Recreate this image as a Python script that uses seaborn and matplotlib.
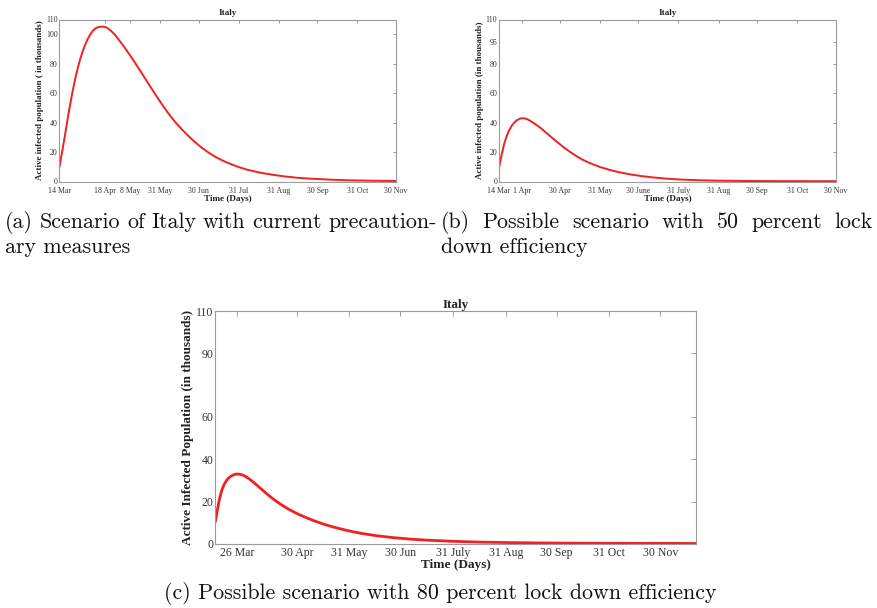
import matplotlib
matplotlib.use("Agg")
import matplotlib.pyplot as plt
import seaborn as sns
import pandas as pd

# ---- data: active infected population (thousands) vs days since 14 Mar ----
days_a = [0, 2, 4, 6, 8, 10, 12, 14, 16, 18, 20, 22, 24, 26, 28, 30, 32, 34, 36, 38,
          40, 43, 46, 50, 54, 58, 62, 66, 70, 74, 78, 82, 86, 90, 95, 100, 105, 110,
          116, 122, 130, 138, 146, 155, 165, 175, 185, 195, 210, 225, 240, 261]
infected_a = [10, 20, 30, 41, 51, 60.5, 69, 76.5, 83, 88.5, 93, 97, 100, 102.4, 104,
              104.8, 105.1, 105.1, 104.7, 103.7, 102.3, 99.6, 96.2, 91.6, 86.6, 81.4,
              76, 70.5, 65, 59.6, 54.3, 49.2, 44.5, 40.1, 35.3, 30.9, 26.8, 23.2, 19.4,
              16.2, 12.8, 10.1, 7.9, 6.1, 4.6, 3.4, 2.5, 1.9, 1.25, 0.8, 0.55, 0.35]

days_b = [0, 2, 4, 6, 8, 10, 12, 14, 16, 18, 20, 22, 25, 28, 32, 36, 40, 45, 50, 55,
          60, 65, 70, 78, 86, 94, 102, 110, 120, 130, 140, 155, 170, 190, 220, 261]
infected_b = [9.5, 18, 25.5, 31, 35, 38, 40.2, 41.7, 42.6, 43, 42.8, 42.2, 40.8, 39,
              36.5, 33.5, 30.5, 26.8, 23.3, 20.1, 17.2, 14.7, 12.6, 9.9, 7.8, 6.1, 4.8,
              3.7, 2.7, 1.9, 1.35, 0.85, 0.55, 0.35, 0.25, 0.2]

days_c = [-1, 0, 1, 2, 3, 4, 5, 6, 7, 9, 11, 13, 15, 17, 19, 22, 25, 29, 33, 37, 42,
          47, 52, 57, 63, 69, 77, 85, 94, 104, 114, 124, 138, 154, 169, 189, 219, 249, 282]
infected_c = [10.5, 15, 19.5, 23, 25.8, 27.8, 29.2, 30.4, 31.3, 32.4, 33, 33, 32.6,
              31.8, 30.7, 28.8, 26.7, 23.9, 21.3, 19, 16.5, 14.4, 12.6, 11, 9.3, 7.9,
              6.3, 5.0, 3.9, 3.0, 2.3, 1.8, 1.3, 0.9, 0.7, 0.5, 0.35, 0.3, 0.25]

ticks_a = [0, 35, 55, 78, 108, 139, 170, 200, 231, 261]
labels_a = ["14 Mar", "18 Apr", "8 May", "31 May", "30 Jun", "31 Jul", "31 Aug",
            "30 Sep", "31 Oct", "30 Nov"]
ticks_b = [0, 18, 47, 78, 108, 139, 170, 200, 231, 261]
labels_b = ["14 Mar", "1 Apr", "30 Apr", "31 May", "30 June", "31 July", "31 Aug",
            "30 Sep", "31 Oct", "30 Nov"]
ticks_c = [12, 47, 78, 108, 139, 170, 200, 231, 261]
labels_c = ["26 Mar", "30 Apr", "31 May", "30 Jun", "31 July", "31 Aug", "30 Sep",
            "31 Oct", "30 Nov"]

yticks_a = [0, 20, 40, 60, 80, 100, 110]
yticks_b = [0, 20, 40, 60, 80, 95, 110]
yticks_c = [0, 20, 40, 60, 90, 110]

ylabel_a = "Active infected population ( in thousands)"
ylabel_b = "Active infected population (in thousands)"
ylabel_c = "Active Infected Population (in thousands)"

caption_a = ["(a) Scenario of Italy with current precaution-", "ary measures"]
caption_b = ["(b) Possible scenario with 50 percent lock", "down efficiency"]
caption_c = "(c) Possible scenario with 80 percent lock down efficiency"

# ---- style ----
sns.set_style("white")
plt.rcParams["font.family"] = ["Liberation Serif", "DejaVu Serif"]

W, H = 878, 608
fig = plt.figure(figsize=(W / 100, H / 100), dpi=100)

RED = "#f22020"
FRAME = "#9a9a9a"


def px_axes(left, top, right, bottom):
    return fig.add_axes([left / W, 1 - bottom / H, (right - left) / W, (bottom - top) / H])


def panel(ax, days, vals, xlim, xticks, xlabels, yticks, ylabel,
          fs_tick, fs_lab, fs_ylab, lw, tlen, xpad, title_pad):
    df = pd.DataFrame({"day": days, "infected": vals})
    sns.lineplot(data=df, x="day", y="infected", ax=ax, color=RED, linewidth=lw,
                 sort=False)
    ax.set_xlim(*xlim)
    ax.set_ylim(0, 110)
    ax.set_xticks(xticks)
    ax.set_xticklabels(xlabels)
    ax.set_yticks(yticks)
    ax.set_yticklabels([str(v) for v in yticks])
    ax.tick_params(axis="both", direction="in", top=True, right=True, length=tlen,
                   width=0.7, color=FRAME, labelsize=fs_tick, labelcolor="#333333")
    ax.tick_params(axis="x", pad=xpad)
    ax.tick_params(axis="y", pad=1.2)
    for s in ax.spines.values():
        s.set_color(FRAME)
        s.set_linewidth(0.8)
    ax.set_title("Italy", fontsize=fs_lab, fontweight="bold", pad=title_pad,
                 color="#222222")
    ax.set_xlabel("Time (Days)", fontsize=fs_lab, fontweight="bold", labelpad=0.3,
                  color="#222222")
    ax.set_ylabel(ylabel, fontsize=fs_ylab, fontweight="bold", labelpad=1.5,
                  color="#222222")


ax_a = px_axes(59.5, 19.5, 396, 181.5)
panel(ax_a, days_a, infected_a, (0, 261), ticks_a, labels_a, yticks_a, ylabel_a,
      5.7, 6.6, 6.5, 1.4, 2.5, 3.8, 3)

ax_b = px_axes(499, 19.5, 836, 181.5)
panel(ax_b, days_b, infected_b, (0, 261), ticks_b, labels_b, yticks_b, ylabel_b,
      5.7, 6.6, 6.5, 1.4, 2.5, 3.8, 3)

ax_c = px_axes(215.3, 311, 696, 544)
panel(ax_c, days_c, infected_c, (-1, 282), ticks_c, labels_c, yticks_c, ylabel_c,
      8.5, 9.5, 9.5, 2.0, 3.5, 2.0, 2)

# ---- captions in Computer Modern ----
renderer = fig.canvas.get_renderer()
CAP = "cmr10"


def text_width(s, size):
    t = fig.text(0, 0, s, fontsize=size, family=CAP)
    w = t.get_window_extent(renderer).width
    t.remove()
    return w


cap_size = 10 * 554 / text_width(caption_c, 10)


def put(s, x, y_base):
    fig.text(x / W, 1 - y_base / H, s, fontsize=cap_size, family=CAP, va="baseline",
             color="#111111")


def justify(s, x0, x1, y_base):
    words = s.split(" ")
    widths = [text_width(w, cap_size) for w in words]
    gap = (x1 - x0 - sum(widths)) / (len(words) - 1)
    x = x0
    for w, wd in zip(words, widths):
        put(w, x, y_base)
        x += wd + gap


justify(caption_a[0], 5, 437, 228)
put(caption_a[1], 5, 253)
justify(caption_b[0], 441, 873, 228)
put(caption_b[1], 441, 253)
put(caption_c, 441 - 554 / 2, 599)

fig.savefig("out.png", dpi=100)
